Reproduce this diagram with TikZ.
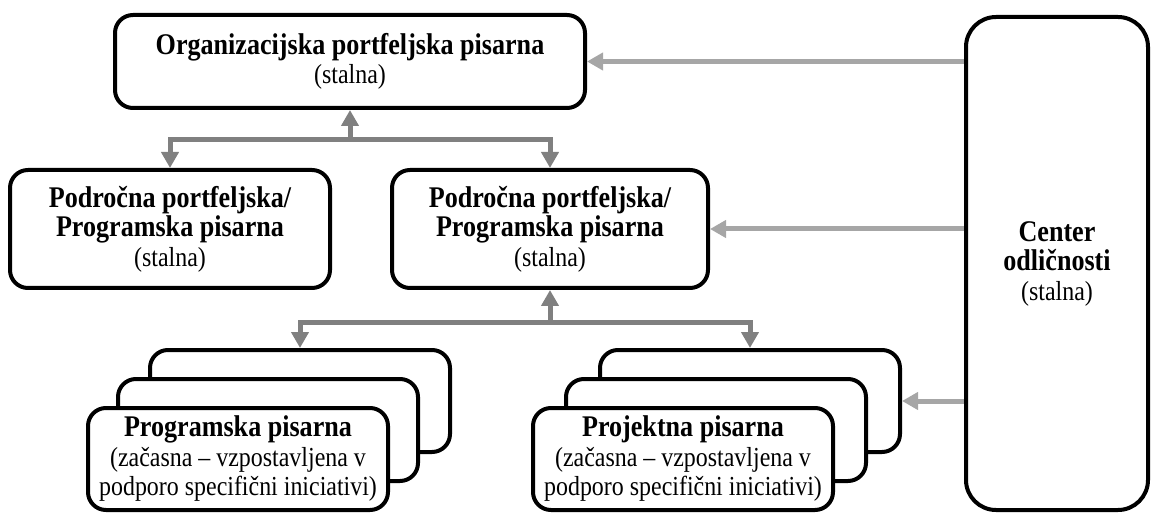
\documentclass[tikz,border=0pt]{standalone}
\usepackage{fontspec}
% slightly condensed serif face: tall letters on narrow widths
\setmainfont{Liberation Serif}[FakeStretch=0.87]
\usetikzlibrary{arrows.meta,calc}
\definecolor{linkdark}{HTML}{808080}
\definecolor{linklight}{HTML}{A6A6A6}
\newcommand{\offtitle}[1]{{\fontsize{30}{31}\selectfont\bfseries #1}}
\tikzset{
  office/.style={draw=black, line width=4pt, rounded corners=18pt, fill=white,
    align=center, inner sep=0pt, font=\fontsize{27.5}{29.5}\selectfont},
  hier/.style={draw=linkdark, line width=5pt, -{Triangle[width=17pt,length=16pt]}},
  side/.style={draw=linklight, line width=5pt, -{Triangle[width=17pt,length=16pt]}},
  unit/.style={office, minimum width=300pt, minimum height=102pt}
}
\begin{document}
\begin{tikzpicture}[x=1pt,y=-1pt]
\useasboundingbox (0,0) rectangle (1152,513);

% permanent offices
\node[office, minimum width=470pt, minimum height=93pt] (org) at (350,61.5)
  {\offtitle{Organizacijska portfeljska pisarna}\\(stalna)};
\node[office, minimum width=320pt, minimum height=118pt] (left) at (170,229)
  {\offtitle{Področna portfeljska/}\\\offtitle{Programska pisarna}\\(stalna)};
\node[office, minimum width=316pt, minimum height=118pt] (area) at (550,229)
  {\offtitle{Področna portfeljska/}\\\offtitle{Programska pisarna}\\(stalna)};
\node[office, rounded corners=30pt, minimum width=182pt, minimum height=493pt] (coe) at (1057,263.5)
  {\offtitle{Center}\\\offtitle{odličnosti}\\(stalna)};

% temporary programme offices (stack)
\node[unit] (pgA) at (300,401) {};
\node[unit] (pgB) at (268,430) {};
\node[unit] (pgC) at (238,459)
  {\offtitle{Programska pisarna}\\(začasna – vzpostavljena v\\podporo specifični iniciativi)};

% temporary project offices (stack)
\node[unit] (prA) at (750,401) {};
\node[unit] (prB) at (716,430) {};
\node[unit] (prC) at (683,459)
  {\offtitle{Projektna pisarna}\\(začasna – vzpostavljena v\\podporo specifični iniciativi)};

% hierarchy links
\coordinate (j1) at ($(org.south)+(0,30)$);
\draw[hier] (j1) -- (org.south);
\draw[hier] (j1) -| (left.north);
\draw[hier] (j1) -| (area.north);

\coordinate (j2) at ($(area.south)+(0,32)$);
\draw[hier] (j2) -- (area.south);
\draw[hier] (j2) -| (pgA.north);
\draw[hier] (j2) -| (prA.north);

% support from the centre of excellence
\draw[side] (coe.west |- org.east) -- (org.east);
\draw[side] (coe.west |- area.east) -- (area.east);
\draw[side] (coe.west |- prA.east) -- (prA.east);
\end{tikzpicture}
\end{document}
